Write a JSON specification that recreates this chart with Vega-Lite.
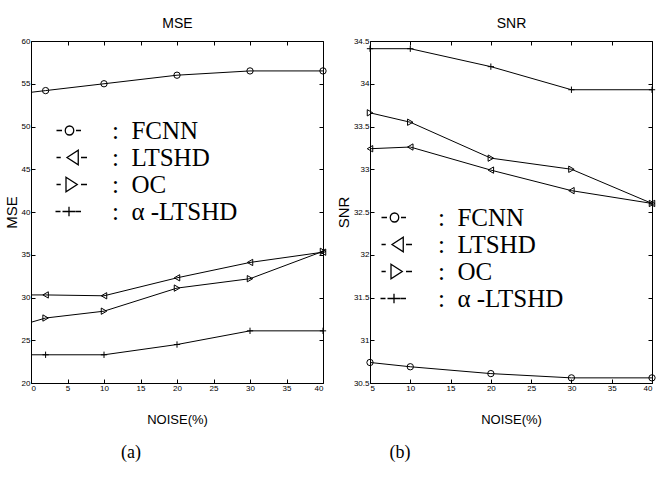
{
  "$schema": "https://vega.github.io/schema/vega-lite/v6.json",
  "background": "white",
  "padding": {"left": 3, "top": 16, "right": 0, "bottom": 2},
  "config": {
    "view": {"stroke": "black", "strokeWidth": 1},
    "axis": {"domain": false, "grid": false, "ticks": true, "tickColor": "black", "tickSize": -4, "labelFont": "Liberation Sans", "labelFontSize": 8, "labelColor": "black", "labelPadding": 5, "titleFont": "Liberation Sans", "titleFontWeight": "normal", "titleColor": "black"},
    "legend": {"labelFont": "Liberation Serif"}
  },
  "datasets": {
    "mse": [
      {"noise": 0, "value": 54.0, "series": "FCNN"},
      {"noise": 2, "value": 54.2, "series": "FCNN"},
      {"noise": 10, "value": 55.0, "series": "FCNN"},
      {"noise": 20, "value": 56.0, "series": "FCNN"},
      {"noise": 30, "value": 56.5, "series": "FCNN"},
      {"noise": 40, "value": 56.5, "series": "FCNN"},
      {"noise": 0, "value": 30.3, "series": "LTSHD"},
      {"noise": 2, "value": 30.3, "series": "LTSHD"},
      {"noise": 10, "value": 30.2, "series": "LTSHD"},
      {"noise": 20, "value": 32.3, "series": "LTSHD"},
      {"noise": 30, "value": 34.1, "series": "LTSHD"},
      {"noise": 40, "value": 35.3, "series": "LTSHD"},
      {"noise": 0, "value": 27.1, "series": "OC"},
      {"noise": 2, "value": 27.6, "series": "OC"},
      {"noise": 10, "value": 28.4, "series": "OC"},
      {"noise": 20, "value": 31.1, "series": "OC"},
      {"noise": 30, "value": 32.2, "series": "OC"},
      {"noise": 40, "value": 35.4, "series": "OC"},
      {"noise": 0, "value": 23.3, "series": "α-LTSHD"},
      {"noise": 2, "value": 23.3, "series": "α-LTSHD"},
      {"noise": 10, "value": 23.3, "series": "α-LTSHD"},
      {"noise": 20, "value": 24.5, "series": "α-LTSHD"},
      {"noise": 30, "value": 26.1, "series": "α-LTSHD"},
      {"noise": 40, "value": 26.1, "series": "α-LTSHD"}
    ],
    "snr": [
      {"noise": 5, "value": 30.74, "series": "FCNN"},
      {"noise": 10, "value": 30.69, "series": "FCNN"},
      {"noise": 20, "value": 30.61, "series": "FCNN"},
      {"noise": 30, "value": 30.56, "series": "FCNN"},
      {"noise": 40, "value": 30.56, "series": "FCNN"},
      {"noise": 5, "value": 33.24, "series": "LTSHD"},
      {"noise": 10, "value": 33.26, "series": "LTSHD"},
      {"noise": 20, "value": 32.99, "series": "LTSHD"},
      {"noise": 30, "value": 32.75, "series": "LTSHD"},
      {"noise": 40, "value": 32.6, "series": "LTSHD"},
      {"noise": 5, "value": 33.66, "series": "OC"},
      {"noise": 10, "value": 33.55, "series": "OC"},
      {"noise": 20, "value": 33.13, "series": "OC"},
      {"noise": 30, "value": 33.0, "series": "OC"},
      {"noise": 40, "value": 32.6, "series": "OC"},
      {"noise": 5, "value": 34.41, "series": "α-LTSHD"},
      {"noise": 10, "value": 34.41, "series": "α-LTSHD"},
      {"noise": 20, "value": 34.2, "series": "α-LTSHD"},
      {"noise": 30, "value": 33.93, "series": "α-LTSHD"},
      {"noise": 40, "value": 33.93, "series": "α-LTSHD"}
    ]
  },
  "spacing": 6,
  "resolve": {"scale": {"shape": "independent"}, "legend": {"shape": "independent"}},
  "hconcat": [
    {
      "width": 292,
      "height": 342,
      "data": {"name": "mse"},
      "title": {"text": "(a)", "orient": "bottom", "font": "Liberation Serif", "fontSize": 18, "fontWeight": "normal", "color": "black", "dx": -46, "offset": 18},
      "layer": [
        {
          "mark": {"type": "line", "color": "black", "strokeWidth": 1},
          "encoding": {
            "x": {"field": "noise", "type": "quantitative", "scale": {"domain": [0, 40], "nice": false}, "axis": {"orient": "bottom", "title": "NOISE(%)", "values": [0, 5, 10, 15, 20, 25, 30, 35, 40], "titleFontSize": 13, "titlePadding": 21}},
            "y": {"field": "value", "type": "quantitative", "scale": {"domain": [20, 60], "zero": false, "nice": false}, "axis": {"orient": "left", "title": "MSE", "values": [20, 25, 30, 35, 40, 45, 50, 55, 60], "titleFontSize": 15, "titlePadding": 2}},
            "detail": {"field": "series"}
          }
        },
        {
          "transform": [{"filter": "datum.noise > 0"}],
          "mark": {"type": "point", "filled": false, "color": "black", "strokeWidth": 1, "size": 40, "opacity": 1},
          "encoding": {
            "x": {"field": "noise", "type": "quantitative", "scale": {"domain": [0, 40], "nice": false}, "axis": {"orient": "top", "labels": false, "title": "MSE", "values": [0, 5, 10, 15, 20, 25, 30, 35, 40], "titleFontSize": 14, "titlePadding": 10}},
            "y": {"field": "value", "type": "quantitative", "scale": {"domain": [20, 60], "zero": false, "nice": false}, "axis": {"orient": "right", "labels": false, "title": null, "values": [20, 25, 30, 35, 40, 45, 50, 55, 60]}},
            "shape": {"field": "series", "type": "nominal", "scale": {"domain": ["FCNN", "LTSHD", "OC", "α-LTSHD"], "range": ["circle", "triangle-left", "triangle-right", "M-1,0H1M0,-1V1"]}, "legend": null}
          }
        },
        {
          "transform": [{"filter": "datum.noise < 0"}],
          "mark": {"type": "point", "filled": false, "color": "black", "strokeWidth": 1, "opacity": 1},
          "encoding": {
            "x": {"field": "noise", "type": "quantitative", "scale": {"domain": [0, 40], "nice": false}, "axis": null},
            "y": {"field": "value", "type": "quantitative", "scale": {"domain": [20, 60], "zero": false, "nice": false}, "axis": null},
            "shape": {"field": "series", "type": "nominal",
              "scale": {"domain": ["FCNN", "LTSHD", "OC", "α-LTSHD"], "range": [
                "M-2.6,0H-1.5M1.3,0H2.3M-0.85,0A0.85,0.9 0 1,0 0.85,0A0.85,0.9 0 1,0 -0.85,0",
                "M-2.6,0H-1.75M2.3,0H3.5M-0.5,0L1.75,-1.45L1.75,1.45Z",
                "M-2.6,0H-1.75M2.3,0H3.5M-0.7,-1.45L1.55,0L-0.7,1.45Z",
                "M-2.8,0H-1.8M1.25,0H2.3M-1.4,0H1.2M-0.1,-0.95V0.95"]},
              "legend": {"orient": "none", "legendX": 1, "legendY": 77, "title": null, "padding": 0, "labelFont": "Liberation Serif", "labelFontSize": 25, "labelColor": "black", "labelLimit": 0, "symbolSize": 100, "symbolStrokeWidth": 1.3, "symbolStrokeColor": "black", "symbolFillColor": "transparent", "symbolOffset": 25, "labelOffset": 30, "rowPadding": 1,
                "labelExpr": "':\u00a0\u00a0' + replace(datum.label, 'α-', 'α\u00a0-')"}
            }
          }
        }
      ],
      "resolve": {"scale": {"shape": "independent"}, "axis": {"x": "independent", "y": "independent"}}
    },
    {
      "width": 282,
      "height": 342,
      "data": {"name": "snr"},
      "title": {"text": "(b)", "orient": "bottom", "font": "Liberation Serif", "fontSize": 18, "fontWeight": "normal", "color": "black", "dx": -111, "offset": 18},
      "layer": [
        {
          "mark": {"type": "line", "color": "black", "strokeWidth": 1},
          "encoding": {
            "x": {"field": "noise", "type": "quantitative", "scale": {"domain": [5, 40], "nice": false, "zero": false}, "axis": {"orient": "bottom", "title": "NOISE(%)", "values": [5, 10, 15, 20, 25, 30, 35, 40], "titleFontSize": 13, "titlePadding": 21}},
            "y": {"field": "value", "type": "quantitative", "scale": {"domain": [30.5, 34.5], "zero": false, "nice": false}, "axis": {"orient": "left", "title": "SNR", "format": ".1~f", "values": [30.5, 31, 31.5, 32, 32.5, 33, 33.5, 34, 34.5], "titleFontSize": 15, "titlePadding": 2}},
            "detail": {"field": "series"}
          }
        },
        {
          "mark": {"type": "point", "filled": false, "color": "black", "strokeWidth": 1, "size": 40, "opacity": 1},
          "encoding": {
            "x": {"field": "noise", "type": "quantitative", "scale": {"domain": [5, 40], "nice": false, "zero": false}, "axis": {"orient": "top", "labels": false, "title": "SNR", "values": [5, 10, 15, 20, 25, 30, 35, 40], "titleFontSize": 14, "titlePadding": 10}},
            "y": {"field": "value", "type": "quantitative", "scale": {"domain": [30.5, 34.5], "zero": false, "nice": false}, "axis": {"orient": "right", "labels": false, "title": null, "values": [30.5, 31, 31.5, 32, 32.5, 33, 33.5, 34, 34.5]}},
            "shape": {"field": "series", "type": "nominal", "scale": {"domain": ["FCNN", "LTSHD", "OC", "α-LTSHD"], "range": ["circle", "triangle-left", "triangle-right", "M-1,0H1M0,-1V1"]}, "legend": null}
          }
        },
        {
          "transform": [{"filter": "datum.noise < 0"}],
          "mark": {"type": "point", "filled": false, "color": "black", "strokeWidth": 1, "opacity": 1},
          "encoding": {
            "x": {"field": "noise", "type": "quantitative", "scale": {"domain": [5, 40], "nice": false, "zero": false}, "axis": null},
            "y": {"field": "value", "type": "quantitative", "scale": {"domain": [30.5, 34.5], "zero": false, "nice": false}, "axis": null},
            "shape": {"field": "series", "type": "nominal",
              "scale": {"domain": ["FCNN", "LTSHD", "OC", "α-LTSHD"], "range": [
                "M-2.6,0H-1.5M1.3,0H2.3M-0.85,0A0.85,0.9 0 1,0 0.85,0A0.85,0.9 0 1,0 -0.85,0",
                "M-2.6,0H-1.75M2.3,0H3.5M-0.5,0L1.75,-1.45L1.75,1.45Z",
                "M-2.6,0H-1.75M2.3,0H3.5M-0.7,-1.45L1.55,0L-0.7,1.45Z",
                "M-2.8,0H-1.8M1.25,0H2.3M-1.4,0H1.2M-0.1,-0.95V0.95"]},
              "legend": {"orient": "none", "legendX": -2, "legendY": 164, "title": null, "padding": 0, "labelFont": "Liberation Serif", "labelFontSize": 25, "labelColor": "black", "labelLimit": 0, "symbolSize": 100, "symbolStrokeWidth": 1.3, "symbolStrokeColor": "black", "symbolFillColor": "transparent", "symbolOffset": 14, "labelOffset": 31, "rowPadding": 1,
                "labelExpr": "':\u00a0\u00a0' + replace(datum.label, 'α-', 'α\u00a0-')"}
            }
          }
        }
      ],
      "resolve": {"scale": {"shape": "independent"}, "axis": {"x": "independent", "y": "independent"}}
    }
  ]
}
